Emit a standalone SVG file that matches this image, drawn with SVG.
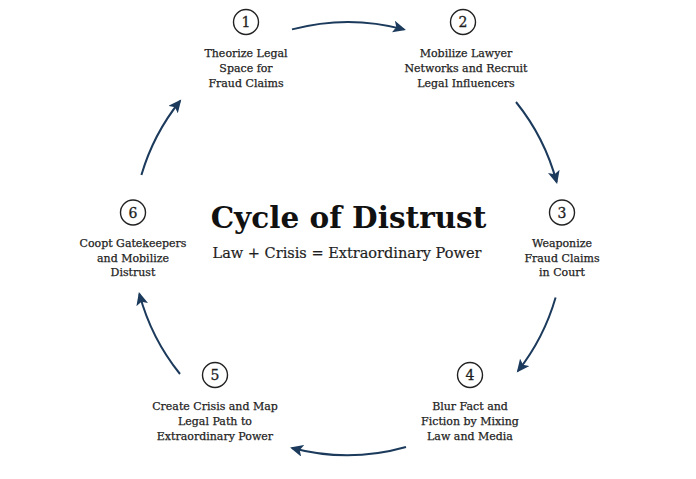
<svg xmlns="http://www.w3.org/2000/svg" width="696" height="479" viewBox="0 0 696 479">
<defs>
<marker id="ah" markerUnits="userSpaceOnUse" markerWidth="14" markerHeight="12" refX="11" refY="6" orient="auto">
<path d="M0,0 L13,6 L0,12 L3,6 z" fill="#1b3a5c"/>
</marker>
<style>
.lbl{font-family:"DejaVu Serif","Liberation Serif",serif;font-size:11px;fill:#1e1e1e;stroke:#1e1e1e;stroke-width:0.25;text-anchor:middle}
.num{font-family:"DejaVu Serif","Liberation Serif",serif;font-size:14px;fill:#1e1e1e;stroke:#1e1e1e;stroke-width:0.3;text-anchor:middle}
.ring{fill:#fff;stroke:#222;stroke-width:1.4}
.arc{fill:none;stroke:#1b3a5c;stroke-width:2;marker-end:url(#ah)}
</style>
</defs>
<rect width="696" height="479" fill="#fff"/>
<g id="connectors">
<path class="arc" d="M292,29.4 A216,216 0 0 1 404,29.4"/>
<path class="arc" d="M516,102 A216,216 0 0 1 556.6,182"/>
<path class="arc" d="M555.6,297.5 A216,216 0 0 1 518,371"/>
<path class="arc" d="M406,447 A216,216 0 0 1 292,448"/>
<path class="arc" d="M180,374 A216,216 0 0 1 139.4,294"/>
<path class="arc" d="M141.4,175 A216,216 0 0 1 180,101"/>
</g>
<g id="title">
<text x="348.5" y="228" font-family="DejaVu Serif, Liberation Serif, serif" font-weight="bold" font-size="29.5" fill="#111" text-anchor="middle">Cycle of Distrust</text>
<text x="347" y="258" font-family="DejaVu Serif, Liberation Serif, serif" font-size="14.5" fill="#1e1e1e" stroke="#1e1e1e" stroke-width="0.2" text-anchor="middle">Law + Crisis = Extraordinary Power</text>
</g>
<g id="node1">
<circle class="ring" cx="246" cy="22" r="12.5"/>
<text class="num" x="246" y="27">1</text>
<text class="lbl" x="246" y="57">Theorize Legal</text>
<text class="lbl" x="246" y="72">Space for</text>
<text class="lbl" x="246" y="87">Fraud Claims</text>
</g>
<g id="node2">
<circle class="ring" cx="463" cy="22" r="12.5"/>
<text class="num" x="463" y="27">2</text>
<text class="lbl" x="466" y="57">Mobilize Lawyer</text>
<text class="lbl" x="466" y="72">Networks and Recruit</text>
<text class="lbl" x="466" y="87">Legal Influencers</text>
</g>
<g id="node3">
<circle class="ring" cx="562" cy="212.5" r="12.5"/>
<text class="num" x="562" y="217.5">3</text>
<text class="lbl" x="562" y="247">Weaponize</text>
<text class="lbl" x="562" y="261.5">Fraud Claims</text>
<text class="lbl" x="562" y="276">in Court</text>
</g>
<g id="node4">
<circle class="ring" cx="470" cy="375" r="12.5"/>
<text class="num" x="470" y="380">4</text>
<text class="lbl" x="470" y="410">Blur Fact and</text>
<text class="lbl" x="470" y="425">Fiction by Mixing</text>
<text class="lbl" x="470" y="440">Law and Media</text>
</g>
<g id="node5">
<circle class="ring" cx="215" cy="375" r="12.5"/>
<text class="num" x="215" y="380">5</text>
<text class="lbl" x="215" y="410">Create Crisis and Map</text>
<text class="lbl" x="215" y="425">Legal Path to</text>
<text class="lbl" x="215" y="440">Extraordinary Power</text>
</g>
<g id="node6">
<circle class="ring" cx="133" cy="212.5" r="12.5"/>
<text class="num" x="133" y="217.5">6</text>
<text class="lbl" x="133" y="247">Coopt Gatekeepers</text>
<text class="lbl" x="133" y="261.5">and Mobilize</text>
<text class="lbl" x="133" y="276">Distrust</text>
</g>
</svg>
